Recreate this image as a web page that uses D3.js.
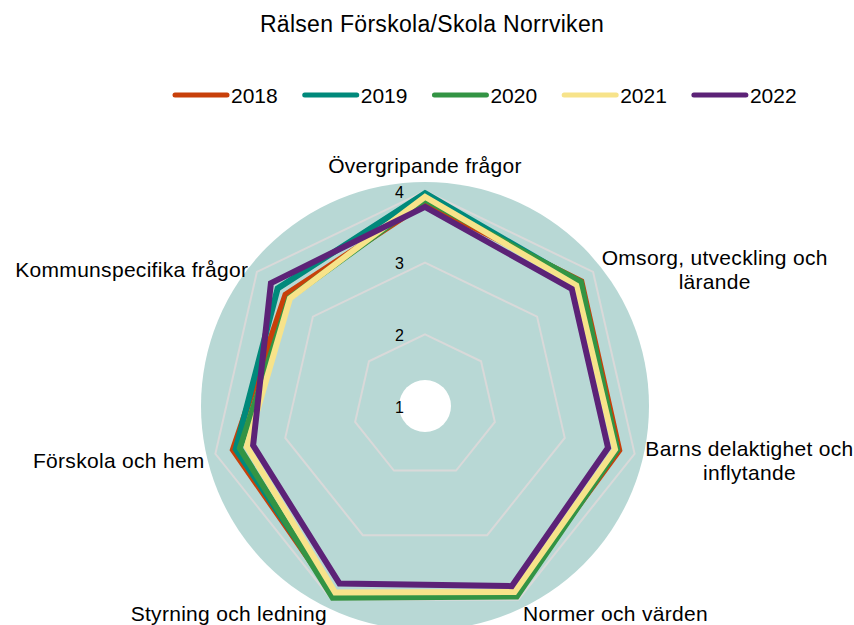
<!doctype html>
<html>
<head>
<meta charset="utf-8">
<title>Rälsen Förskola/Skola Norrviken</title>
<script src="https://d3js.org/d3.v7.min.js"></script>
<style>
    body { margin: 0; background: #fff; }
    text { font-family: "Liberation Sans", Arial, sans-serif; fill: #000; }
</style>
</head>
<body>
<svg id="chart" width="854" height="625"></svg>
<script>

    // --- data ---
    var categories = [
        ["Övergripande frågor"],
        ["Omsorg, utveckling och", "lärande"],
        ["Barns delaktighet och", "inflytande"],
        ["Normer och värden"],
        ["Styrning och ledning"],
        ["Förskola och hem"],
        ["Kommunspecifika frågor"]
    ];
    var years = ["2018", "2019", "2020", "2021", "2022"];
    var v2018 = [3.83, 3.79, 3.78, 3.89, 3.93, 3.75, 3.49];
    var v2019 = [3.97, 3.76, 3.75, 3.90, 3.93, 3.71, 3.63];
    var v2020 = [3.88, 3.78, 3.75, 3.95, 3.97, 3.65, 3.42];
    var v2021 = [3.92, 3.70, 3.72, 3.88, 3.89, 3.55, 3.41];
    var v2022 = [3.78, 3.62, 3.62, 3.79, 3.75, 3.46, 3.75];
    var ticks = [1, 2, 3, 4];
    var colors = ["#c8400a", "#00897b", "#339444", "#f7e38a", "#5c2277"];

    var series = [v2018, v2019, v2020, v2021, v2022];

    var svg = d3.select('#chart');
    var cx = 425, cy = 406;
    var n = categories.length;

    var r = d3.scaleLinear().domain([1, 4]).range([0, 215]);
    var angle = d3.scaleLinear().domain([0, n]).range([0, 2 * Math.PI]);

    function pt(i, v){
        var a = angle(i);
        return [cx + Math.sin(a) * r(v), cy - Math.cos(a) * r(v)];
    }

    // title
    svg.append('text')
        .attr('x', 432).attr('y', 24)
        .attr('text-anchor', 'middle')
        .attr('dominant-baseline', 'central')
        .style('font-size', '23px')
        .style('letter-spacing', '0.3px')
        .text('Rälsen Förskola/Skola Norrviken');

    // legend
    var legend = svg.append('g');
    var lx = 173;
    years.forEach(function(y, i){
        var g = legend.append('g').attr('transform', 'translate(' + lx + ',95)');
        g.append('line')
            .attr('x1', 2).attr('x2', 54)
            .attr('stroke', colors[i])
            .attr('stroke-width', 5)
            .attr('stroke-linecap', 'round');
        var t = g.append('text')
            .attr('x', 58).attr('y', 0)
            .attr('dominant-baseline', 'central')
            .style('font-size', '21px')
            .text(y);
        lx += 58 + t.node().getComputedTextLength() + 25;
    });

    // background disc with hole
    svg.append('circle')
        .attr('cx', cx).attr('cy', cy).attr('r', 224)
        .attr('fill', '#b8d8d5');
    svg.append('circle')
        .attr('cx', cx).attr('cy', cy).attr('r', 26)
        .attr('fill', '#fff');

    // grid rings
    var line = d3.line().curve(d3.curveLinearClosed);
    svg.append('g').selectAll('path')
        .data(ticks.filter(function(t){ return t > 1; }))
        .enter().append('path')
        .attr('d', function(t){ return line(d3.range(n).map(function(i){ return pt(i, t); })); })
        .attr('fill', 'none')
        .attr('stroke', '#d9d9d9')
        .attr('stroke-width', 2);

    // series
    svg.append('g').selectAll('path')
        .data(series)
        .enter().append('path')
        .attr('d', function(s){ return line(s.map(function(v, i){ return pt(i, v); })); })
        .attr('fill', 'none')
        .attr('stroke', function(d, i){ return colors[i]; })
        .attr('stroke-width', 6)
        .attr('stroke-linejoin', 'miter');

    // tick labels
    svg.append('g').selectAll('text')
        .data(ticks)
        .enter().append('text')
        .attr('x', cx - 21)
        .attr('y', function(t){ return cy - r(t) + 1; })
        .attr('text-anchor', 'end')
        .attr('dominant-baseline', 'central')
        .style('font-size', '16px')
        .text(function(t){ return t; });

    // axis labels
    var lineH = 24;
    categories.forEach(function(lines, i){
        var a = angle(i);
        var p = [cx + Math.sin(a) * 226, cy - Math.cos(a) * 226];
        var s = Math.sin(a);
        var g = svg.append('g');
        var texts = lines.map(function(l){
            return g.append('text')
                .style('font-size', '21px')
                .style('letter-spacing', '0.3px')
                .text(l);
        });
        var w = d3.max(texts, function(t){ return t.node().getComputedTextLength(); });
        var mid;
        if(s > 0.1) mid = p[0] + w / 2;
        else if(s < -0.1) mid = p[0] - w / 2;
        else mid = p[0];
        var top;
        if(i === 0) top = p[1] - 3 - lineH * lines.length;
        else top = p[1] + 4 - lineH * lines.length / 2;
        texts.forEach(function(t, k){
            t.attr('x', mid)
                .attr('y', top + lineH * k + lineH / 2)
                .attr('text-anchor', 'middle')
                .attr('dominant-baseline', 'central');
        });
    });

</script>
</body>
</html>
